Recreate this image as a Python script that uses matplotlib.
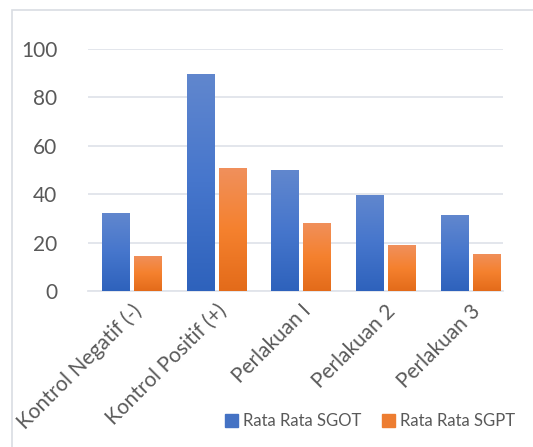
import matplotlib
matplotlib.use("Agg")
import matplotlib.pyplot as plt
import numpy as np
from matplotlib.patches import Rectangle
from matplotlib.colors import LinearSegmentedColormap

categories = ["Kontrol Negatif (-)", "Kontrol Positif (+)", "Perlakuan I", "Perlakuan 2", "Perlakuan 3"]
sgot = [32.2, 89.7, 50.0, 39.7, 31.4]
sgpt = [14.5, 50.8, 28.1, 19.0, 15.3]
series_names = ["Rata Rata SGOT", "Rata Rata SGPT"]
yticks = [0, 20, 40, 60, 80, 100]

W, H = 533, 447
fig = plt.figure(figsize=(W/100, H/100), dpi=100)
plt.rcParams['font.family'] = ['Lato', 'DejaVu Sans']

# figure border (cropped on right/bottom)
fig.patches.append(Rectangle((12/W, -0.05), 1.2, 1 - 10/H + 0.05, transform=fig.transFigure,
                             fill=False, edgecolor='#D9DDE3', linewidth=1.2))

ax = fig.add_axes([88/W, 1 - 291/H, (503-88)/W, (291-49)/H])
x = np.arange(len(categories))
bw = 0.319
off = 0.189
blue_cmap = LinearSegmentedColormap.from_list('b', ['#2E62BC', '#4676CC', '#6187CE'])
orange_cmap = LinearSegmentedColormap.from_list('o', ['#E36B1A', '#F5812E', '#F0905C'])
grad = np.linspace(0, 1, 256).reshape(-1, 1)

b1 = ax.bar(x - off, sgot, bw, color='#4472C4', zorder=3)
b2 = ax.bar(x + off, sgpt, bw, color='#ED7D31', zorder=3)
for bars, cmap in ((b1, blue_cmap), (b2, orange_cmap)):
    for r in bars:
        x0, y0 = r.get_x(), r.get_y()
        w, h = r.get_width(), r.get_height()
        im = ax.imshow(grad, cmap=cmap, origin='lower', aspect='auto',
                       extent=(x0, x0 + w, y0, y0 + h), zorder=4)
        im.set_clip_path(r)

ax.set_xlim(-0.513, -0.513 + 415/84.75)
ax.set_ylim(0, 100)
ax.set_yticks(yticks)
ax.set_yticklabels([str(v) for v in yticks], fontsize=15, color='#595959')
ax.set_xticks(x)
ax.set_xticklabels(categories, fontsize=15, color='#595959', rotation=45,
                   ha='right', va='top', rotation_mode='anchor')
ax.tick_params(axis='both', length=0)
ax.tick_params(axis='y', pad=22)
ax.tick_params(axis='x', pad=7)
ax.grid(axis='y', color='#E1E4EA', linewidth=1.3, zorder=0)
for s in ['top', 'right', 'left']:
    ax.spines[s].set_visible(False)
ax.spines['bottom'].set_color('#E1E4EA')
ax.spines['bottom'].set_linewidth(1.3)

handles = [Rectangle((0, 0), 1, 1, color='#4472C4'), Rectangle((0, 0), 1, 1, color='#ED7D31')]
leg = fig.legend(handles, series_names, loc='center', bbox_to_anchor=(370/W, 1 - 421/H),
                 ncol=2, frameon=False, fontsize=12, handlelength=0.8, handleheight=0.8,
                 handletextpad=0.3, columnspacing=1.2, labelcolor='#595959')

fig.savefig('out.png', dpi=100)
